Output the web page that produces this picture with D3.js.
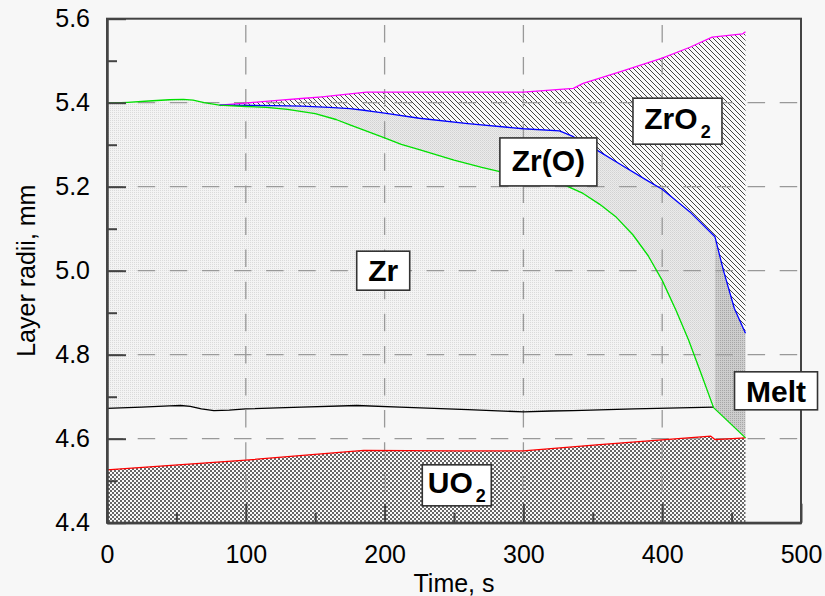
<!DOCTYPE html>
<html>
<head>
<meta charset="utf-8">
<script src="https://cdn.jsdelivr.net/npm/d3@7"></script>
<style>
  body { margin: 0; background: #f7f7f7; }
  svg { display: block; font-family: "Liberation Sans", Arial, sans-serif; }
</style>
</head>
<body>
<svg width="825" height="596"></svg>
<script>
// layer boundaries as [time s, radius mm]
const zrO2Outer = [[81, 5.394], [95, 5.398], [110, 5.402], [125, 5.406], [140, 5.41], [155, 5.414],
    [170, 5.419], [187, 5.425], [250, 5.425], [300, 5.425], [336, 5.434], [343, 5.446], [370, 5.474],
    [400, 5.506], [420, 5.532], [436, 5.556], [458, 5.564], [460, 5.569]]
const zrOOuter = [[81, 5.394], [120, 5.393], [140, 5.392], [160, 5.389], [175, 5.386], [185, 5.382],
    [192, 5.379], [200, 5.375], [225, 5.363], [260, 5.35], [300, 5.338], [326, 5.333], [336, 5.319],
    [353, 5.287], [370, 5.253], [389, 5.215], [400, 5.194], [420, 5.14], [438, 5.081], [444, 5.002],
    [452, 4.91], [460, 4.851]]
const zrOuter = [[0, 5.399], [15, 5.401], [30, 5.404], [45, 5.407], [55, 5.408], [62, 5.406],
    [70, 5.4], [81, 5.394], [100, 5.391], [115, 5.389], [130, 5.384], [150, 5.374], [165, 5.36],
    [175, 5.347], [188, 5.331], [200, 5.316], [212, 5.301], [225, 5.288], [250, 5.263], [270, 5.246],
    [283, 5.236], [300, 5.222], [316, 5.212], [331, 5.202], [343, 5.184], [355, 5.158], [367, 5.127],
    [379, 5.085], [390, 5.035], [400, 4.977], [410, 4.905], [419, 4.835], [428, 4.755], [437, 4.674],
    [460, 4.602]]
const cladInner = [[0, 4.672], [25, 4.675], [45, 4.678], [53, 4.679], [60, 4.677], [68, 4.671],
    [77, 4.667], [88, 4.668], [100, 4.671], [140, 4.675], [180, 4.679], [211, 4.675], [260, 4.669],
    [300, 4.664], [320, 4.666], [336, 4.667], [380, 4.671], [437, 4.675]]
const fuelOuter = [[0, 4.526], [100, 4.549], [185, 4.572], [250, 4.571], [300, 4.571], [355, 4.586],
    [435, 4.606], [438, 4.598], [460, 4.602]]
const meltStart = 438

const xTicks = [0, 100, 200, 300, 400, 500]
const xMinor = [50, 150, 250, 350, 450]
const yTicks = [4.4, 4.6, 4.8, 5.0, 5.2, 5.4, 5.6]
const yMinor = [4.5, 4.7, 4.9, 5.1, 5.3, 5.5]

const labels = ['Zr', 'Zr(O)', 'ZrO2', 'Melt', 'UO2']
const labelAt = [[199, 5.0], [318, 5.259], [411, 5.356], [482, 4.714], [252, 4.489]]

// box size and baseline offset of each label, pixels
const labelBox = [[53, 39, 10.5], [97, 48, 9], [89, 46, 8], [83, 38, 10.7], [69, 41, 8]]

const dim = {left: 107, right: 801, top: 18.7, bottom: 522.7}
const svg = d3.select('svg')

const x = d3.scaleLinear().domain([0, 500]).range([dim.left, dim.right])
const y = d3.scaleLinear().domain([4.4, 5.6]).range([dim.bottom, dim.top])

const defs = svg.append('defs')
function pattern(id, w, h, bg) {
    const p = defs.append('pattern').attr('id', id)
        .attr('patternUnits', 'userSpaceOnUse').attr('width', w).attr('height', h)
    p.append('rect').attr('width', w).attr('height', h).attr('fill', bg)
    return p
}
let p = pattern('uo2', 4, 4, '#fafafa')
p.append('rect').attr('width', 2).attr('height', 2).attr('fill', '#666')
p.append('rect').attr('x', 2).attr('y', 2).attr('width', 2).attr('height', 2).attr('fill', '#666')
p = pattern('zr', 2, 2, '#f3f3f3')
p.append('rect').attr('width', 1).attr('height', 1).attr('fill', '#dadada')
p = pattern('zro', 2, 2, '#ebebeb')
p.append('rect').attr('width', 1).attr('height', 1).attr('fill', '#d2d2d2')
p.append('rect').attr('x', 1).attr('y', 1).attr('width', 1).attr('height', 1).attr('fill', '#dcdcdc')
p = pattern('melt', 2, 2, '#cdcdcd')
p.append('rect').attr('width', 1).attr('height', 1).attr('fill', '#a6a6a6')
p = pattern('hatch', 5, 5, '#f9f9f9')
p.append('path').attr('d', 'M0,0L5,5M-1,4L1,6M4,-1L6,1')
    .attr('stroke', '#444').attr('stroke-width', 1)

defs.append('clipPath').attr('id', 'left-of-melt').append('rect')
    .attr('x', dim.left).attr('y', dim.top)
    .attr('width', x(meltStart) - dim.left).attr('height', dim.bottom - dim.top)
defs.append('clipPath').attr('id', 'melt-zone').append('rect')
    .attr('x', x(meltStart)).attr('y', dim.top)
    .attr('width', dim.right - x(meltStart)).attr('height', dim.bottom - dim.top)

const line = d3.line().x(d => x(d[0])).y(d => y(d[1]))
function band(upper, lower) {
    return line(upper) + line(lower.slice().reverse()).replace(/^M/, 'L') + 'Z'
}

// fills
const fills = svg.append('g')
fills.append('path')
    .attr('d', d3.area().x(d => x(d[0])).y0(y(4.4)).y1(d => y(d[1]))(fuelOuter))
    .attr('fill', 'url(#uo2)')
fills.append('path')
    .attr('d', band(zrOuter.filter(d => d[0] <= 437), cladInner))
    .attr('fill', 'url(#zr)')
const zrOBand = band(zrOOuter, zrOuter.filter(d => d[0] >= 81))
fills.append('path').attr('d', zrOBand).attr('fill', 'url(#zro)').attr('clip-path', 'url(#left-of-melt)')
fills.append('path').attr('d', zrOBand).attr('fill', 'url(#melt)').attr('clip-path', 'url(#melt-zone)')
fills.append('path').attr('d', band(zrO2Outer, zrOOuter)).attr('fill', 'url(#hatch)')

// dashed grid
const grid = svg.append('g').attr('stroke', '#999').attr('stroke-width', 1.3)
    .attr('stroke-dasharray', '17.5,14.6')
grid.selectAll('.hgrid').data(yTicks.slice(1, -1)).join('line')
    .attr('x1', dim.left).attr('x2', dim.right)
    .attr('y1', d => y(d)).attr('y2', d => y(d))
    .attr('stroke-dashoffset', 1.4)
grid.selectAll('.vgrid').data(xTicks.slice(1, -1)).join('line')
    .attr('y1', dim.top).attr('y2', dim.bottom)
    .attr('x1', d => x(d)).attr('x2', d => x(d))
    .attr('stroke-dashoffset', 25.9)

// boundary curves
const curves = [[fuelOuter, '#ff0000'], [cladInner, '#000000'], [zrO2Outer, '#ff00ff'],
    [zrOOuter, '#0000ff'], [zrOuter, '#00e000']]
svg.append('g').selectAll('path').data(curves).join('path')
    .attr('d', d => line(d[0]))
    .attr('fill', 'none')
    .attr('stroke', d => d[1])
    .attr('stroke-width', 1.3)
    .attr('stroke-linejoin', 'round')

// axes
function styleAxis(g) {
    g.selectAll('.domain').attr('stroke', '#444').attr('stroke-width', 2)
    g.selectAll('.tick line').attr('stroke', '#444').attr('stroke-width', 2)
    g.selectAll('text').attr('font-size', 25).attr('fill', '#000')
        .attr('font-family', '"Liberation Sans", Arial, sans-serif')
}
svg.append('g').attr('transform', `translate(${dim.left},0)`)
    .call(d3.axisLeft(y).tickValues(yTicks).tickFormat(d3.format('.1f'))
        .tickSize(-19).tickSizeOuter(0).tickPadding(17))
    .call(styleAxis)
svg.append('g').attr('transform', `translate(${dim.left},0)`)
    .call(d3.axisLeft(y).tickValues(yMinor).tickFormat('').tickSize(-10).tickSizeOuter(0))
    .call(styleAxis)
svg.append('g').attr('transform', `translate(0,${dim.bottom})`)
    .call(d3.axisBottom(x).tickValues(xTicks).tickFormat(d3.format('d'))
        .tickSize(-19).tickSizeOuter(0).tickPadding(23))
    .call(styleAxis)
svg.append('g').attr('transform', `translate(0,${dim.bottom})`)
    .call(d3.axisBottom(x).tickValues(xMinor).tickFormat('').tickSize(-10).tickSizeOuter(0))
    .call(styleAxis)

svg.append('rect')
    .attr('x', dim.left).attr('y', dim.top)
    .attr('width', dim.right - dim.left).attr('height', dim.bottom - dim.top)
    .attr('fill', 'none').attr('stroke', '#444').attr('stroke-width', 2)

svg.append('text')
    .attr('x', (dim.left + dim.right) / 2).attr('y', 592)
    .attr('text-anchor', 'middle').attr('font-size', 25)
    .text('Time, s')
svg.append('text')
    .attr('transform', `translate(35,${(dim.top + dim.bottom) / 2}) rotate(-90)`)
    .attr('text-anchor', 'middle').attr('font-size', 25)
    .text('Layer radii, mm')

// layer labels
labels.forEach((name, i) => {
    const [w, h, base] = labelBox[i]
    const cx = x(labelAt[i][0])
    const cy = y(labelAt[i][1])
    const g = svg.append('g')
    g.append('rect')
        .attr('x', cx - w / 2).attr('y', cy - h / 2)
        .attr('width', w).attr('height', h)
        .attr('fill', '#fff').attr('stroke', '#333').attr('stroke-width', 1.6)
    const t = g.append('text')
        .attr('x', cx).attr('y', cy + base)
        .attr('text-anchor', 'middle')
        .attr('font-size', 30).attr('font-weight', 'bold')
    const m = name.match(/^(.*?)(\d)$/)
    if (m) {
        t.append('tspan').text(m[1])
        t.append('tspan').attr('dx', 3).attr('dy', 9).attr('font-size', 18).text(m[2])
    } else {
        t.text(name)
    }
})
</script>
</body>
</html>
